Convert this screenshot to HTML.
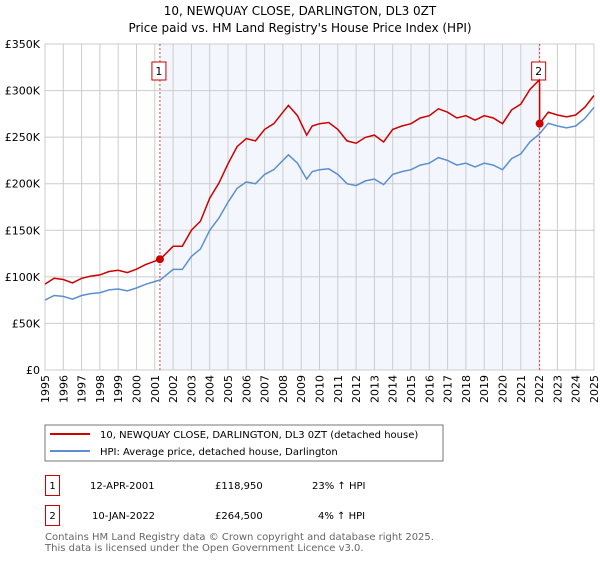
<!DOCTYPE html>
<html><head><meta charset="utf-8"><style>
body{margin:0;background:#fff;font-family:"DejaVu Sans","Liberation Sans",sans-serif;}
svg text{font-family:"DejaVu Sans","Liberation Sans",sans-serif;}
</style></head><body>
<svg width="600" height="560" viewBox="0 0 600 560" xmlns="http://www.w3.org/2000/svg">
<text x="300" y="15" text-anchor="middle" font-size="12" fill="#000">10, NEWQUAY CLOSE, DARLINGTON, DL3 0ZT</text>
<text x="300" y="32" text-anchor="middle" font-size="12" fill="#000">Price paid vs. HM Land Registry's House Price Index (HPI)</text>
<g id="plot"></g>
<rect x="45" y="425" width="398" height="36" fill="#fff" stroke="#777"/>
<line x1="50" y1="434" x2="90" y2="434" stroke="#cc0000" stroke-width="2"/>
<text x="100" y="438" font-size="10">10, NEWQUAY CLOSE, DARLINGTON, DL3 0ZT (detached house)</text>
<line x1="50" y1="451" x2="90" y2="451" stroke="#5b8fd0" stroke-width="2"/>
<text x="100" y="455" font-size="10">HPI: Average price, detached house, Darlington</text>
<g font-size="10">
<rect x="45.5" y="475.5" width="14" height="20" fill="#fff" stroke="#cc0000"/>
<text x="52.5" y="489" text-anchor="middle">1</text>
<text x="90" y="489">12-APR-2001</text>
<text x="215" y="489">£118,950</text>
<text x="312" y="489">23% ↑ HPI</text>
<rect x="45.5" y="505.5" width="14" height="20" fill="#fff" stroke="#cc0000"/>
<text x="52.5" y="519" text-anchor="middle">2</text>
<text x="92" y="519">10-JAN-2022</text>
<text x="215" y="519">£264,500</text>
<text x="318" y="519">4% ↑ HPI</text>
</g>
<text x="45" y="540" font-size="10" fill="#666">Contains HM Land Registry data © Crown copyright and database right 2025.</text>
<text x="45" y="551" font-size="10" fill="#666">This data is licensed under the Open Government Licence v3.0.</text>
</svg>
<script>
const hpiYears=[1995,1995.5,1996,1996.5,1997,1997.5,1998,1998.5,1999,1999.5,2000,2000.5,2001,2001.3,2002,2002.5,2003,2003.5,2004,2004.5,2005,2005.5,2006,2006.5,2007,2007.5,2008,2008.3,2008.8,2009.3,2009.6,2010,2010.5,2011,2011.5,2012,2012.5,2013,2013.5,2014,2014.5,2015,2015.5,2016,2016.5,2017,2017.5,2018,2018.5,2019,2019.5,2020,2020.5,2021,2021.5,2022,2022.5,2023,2023.5,2024,2024.5,2025];
const hpiValues=[75,80,79,76,80,82,83,86,87,85,88,92,95,96.7,108,108,122,130,150,163,180,195,202,200,210,215,225,231,222,205,213,215,216,210,200,198,203,205,199,210,213,215,220,222,228,225,220,222,218,222,220,215,227,232,245,253,265,262,260,262,270,282];
const yTicks=[0,50,100,150,200,250,300,350];
const yTickLabels=["£0","£50K","£100K","£150K","£200K","£250K","£300K","£350K"];
const xTicks=[1995,1996,1997,1998,1999,2000,2001,2002,2003,2004,2005,2006,2007,2008,2009,2010,2011,2012,2013,2014,2015,2016,2017,2018,2019,2020,2021,2022,2023,2024,2025];
const saleDates=[2001.28,2022.03];
const salePrices=[118.95,264.5];
const saleLabels=["1","2"];
const preRatio=1.23, postRatio=1.045;

const NS="http://www.w3.org/2000/svg";
const L=45,R=594,T=44,B=370;
const xs=y=>L+(y-1995)/(2025-1995)*(R-L);
const ys=v=>B-v/350*(B-T);
const g=document.getElementById('plot');
function mk(t,a){const e=document.createElementNS(NS,t);for(const k in a)e.setAttribute(k,a[k]);g.appendChild(e);return e;}
let e=mk('rect',{x:xs(saleDates[0]),y:T,width:xs(saleDates[1])-xs(saleDates[0]),height:B-T,fill:'#eef3fc',opacity:0.7});


yTicks.forEach((v,i)=>{
 let l=mk('line',{x1:L,x2:R,y1:ys(v),y2:ys(v),stroke:'#ccc'});
 
 
 let t=mk('text',{x:40,y:ys(v)+4,'text-anchor':'end','font-size':11});
 t.textContent=yTickLabels[i];
 
 
});
xTicks.forEach(yr=>{
 let l=mk('line',{x1:xs(yr),x2:xs(yr),y1:T,y2:B,stroke:'#ccc'});
 
 
 let t=mk('text',{x:0,y:0,'font-size':11,'text-anchor':'end',transform:`translate(${xs(yr)+4},375) rotate(-90)`});
 t.textContent=yr;
 
 
});
let ax=mk('rect',{x:L,y:T,width:R-L,height:B-T,fill:'none',stroke:'#ccc'});


saleDates.forEach((d,i)=>{
 let l=mk('line',{x1:xs(d),x2:xs(d),y1:T,y2:B,stroke:'#dd4444','stroke-dasharray':'2,2','stroke-width':1});
 
 
 let r=mk('rect',{x:xs(d)-8,y:62,width:14,height:18,fill:'#fff',stroke:'#cc0000'});
 
 
 let t=mk('text',{x:xs(d)-1,y:75,'text-anchor':'middle','font-size':11});
 t.textContent=saleLabels[i];
 
 
});
let hp=hpiYears.map((y,i)=>`${xs(y).toFixed(1)},${ys(hpiValues[i]).toFixed(1)}`).join(' ');
let hl=mk('polyline',{points:hp,fill:'none',stroke:'#5b8fd0','stroke-width':1.5});


let pts=[];
hpiYears.forEach((y,i)=>{
 if(y<saleDates[1]) pts.push([y,hpiValues[i]*preRatio]);
});
pts.push([saleDates[1],250*preRatio]);
pts.push([saleDates[1],salePrices[1]]);
hpiYears.forEach((y,i)=>{ if(y>saleDates[1]) pts.push([y,hpiValues[i]*postRatio]); });
let pl=mk('polyline',{points:pts.map(p=>`${xs(p[0]).toFixed(1)},${ys(p[1]).toFixed(1)}`).join(' '),fill:'none',stroke:'#cc0000','stroke-width':1.5});


saleDates.forEach((d,i)=>{
 let c=mk('circle',{cx:xs(d),cy:ys(salePrices[i]),r:4,fill:'#cc0000'});
 
 
});
</script>
</body></html>
